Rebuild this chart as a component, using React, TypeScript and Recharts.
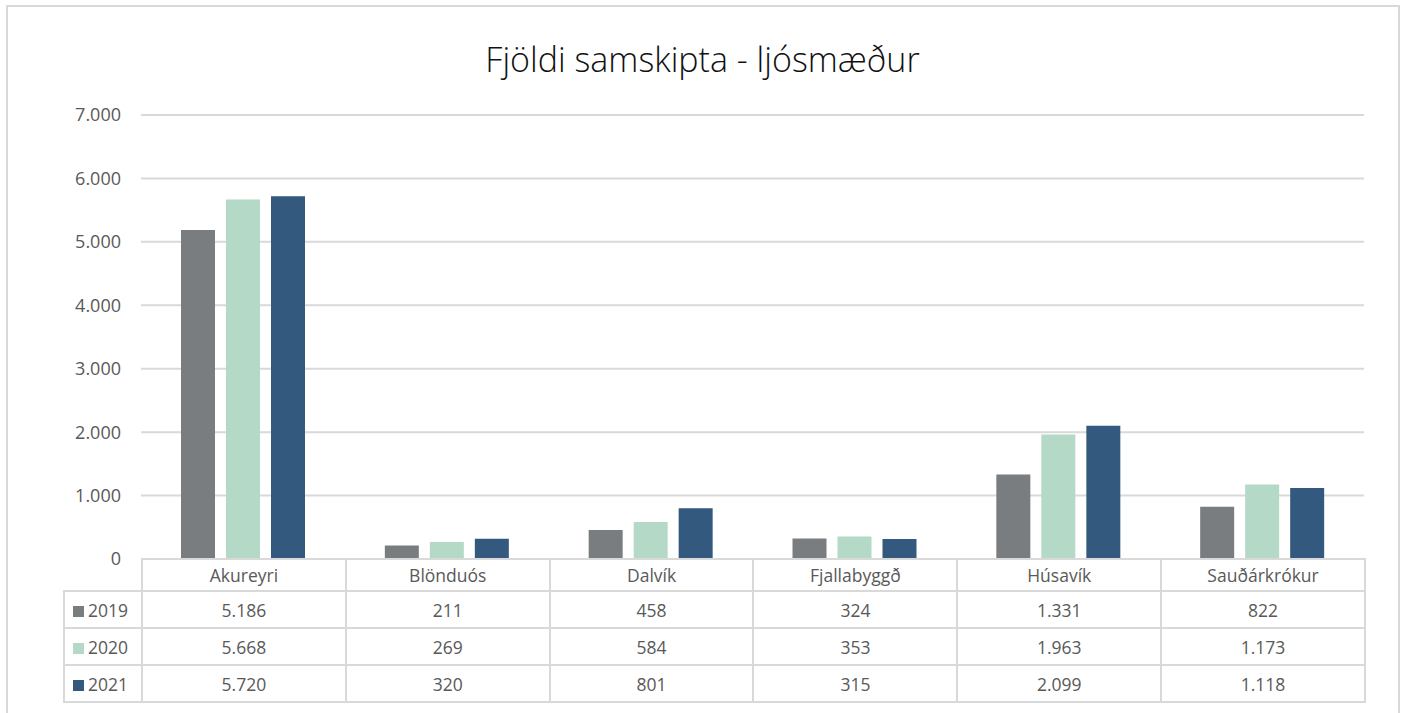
import { Bar, BarChart, CartesianGrid, XAxis, YAxis } from "recharts";

const categories = ["Akureyri", "Blönduós", "Dalvík", "Fjallabyggð", "Húsavík", "Sauðárkrókur"];
const years = ["2019", "2020", "2021"];
const values2019 = [5186, 211, 458, 324, 1331, 822];
const values2020 = [5668, 269, 584, 353, 1963, 1173];
const values2021 = [5720, 320, 801, 315, 2099, 1118];
const yTicks = [0, 1000, 2000, 3000, 4000, 5000, 6000, 7000];
const seriesColors = ["#797d80", "#b4d9c7", "#335a7e"];

const seriesValues = [values2019, values2020, values2021];
const data = categories.map((name, i) => ({
  name,
  y2019: values2019[i],
  y2020: values2020[i],
  y2021: values2021[i],
}));

const fmt = (n: number) => String(n).replace(/\B(?=(\d{3})+(?!\d))/g, ".");

const W = 1405;
const H = 713;
const PLOT_LEFT = 141;
const PLOT_RIGHT = 1364;
const PLOT_TOP = 115;
const PLOT_BOTTOM = 559;
const LEGEND_LEFT = 63;
const TEXT = "#595959";
const LINE = "#d9d9d9";
const FONT = "'Open Sans', sans-serif";

const cell: React.CSSProperties = {
  border: `2px solid ${LINE}`,
  padding: 0,
  textAlign: "center",
  color: TEXT,
  fontSize: 17.5,
  whiteSpace: "nowrap",
};

export default function App() {
  const catWidth = (PLOT_RIGHT - PLOT_LEFT) / categories.length;
  return (
    <div
      style={{
        position: "fixed",
        left: 0,
        top: 0,
        width: W,
        height: H,
        overflow: "hidden",
        background: "#fff",
        fontFamily: FONT,
      }}
    >
      <div
        style={{
          position: "absolute",
          left: 6,
          top: 5,
          width: 1390,
          height: 740,
          border: `2px solid ${LINE}`,
        }}
      />
      <div
        style={{
          position: "absolute",
          left: 0,
          width: W,
          top: 36,
          textAlign: "center",
          fontSize: 34,
          fontWeight: 300,
          color: "#111",
          lineHeight: "46px",
        }}
      >
        Fjöldi samskipta - ljósmæður
      </div>
      <div style={{ position: "absolute", left: 0, top: 0 }}>
        <BarChart
          width={W}
          height={H}
          data={data}
          margin={{ top: PLOT_TOP, right: W - PLOT_RIGHT, bottom: H - PLOT_BOTTOM, left: 0 }}
          barGap={11}
        >
          <CartesianGrid stroke={LINE} strokeWidth={2} vertical={false} />
          <XAxis dataKey="name" hide />
          <YAxis
            width={PLOT_LEFT}
            domain={[0, 7000]}
            ticks={yTicks}
            interval={0}
            axisLine={false}
            tickLine={false}
            tickSize={0}
            tickMargin={20}
            tickFormatter={fmt}
            tick={{ fill: TEXT, fontSize: 18, fontFamily: FONT }}
          />
          {years.map((y, i) => (
            <Bar key={y} dataKey={`y${y}`} fill={seriesColors[i]} barSize={34} isAnimationActive={false} />
          ))}
        </BarChart>
      </div>
      <table
        style={{
          position: "absolute",
          left: LEGEND_LEFT,
          top: PLOT_BOTTOM - 1,
          width: PLOT_RIGHT - LEGEND_LEFT,
          borderCollapse: "collapse",
          tableLayout: "fixed",
          fontFamily: FONT,
        }}
      >
        <colgroup>
          <col style={{ width: PLOT_LEFT - LEGEND_LEFT }} />
          {categories.map((c) => (
            <col key={c} style={{ width: catWidth }} />
          ))}
        </colgroup>
        <tbody>
          <tr style={{ height: 32 }}>
            <td style={{ ...cell, borderTop: "none", borderLeft: "none" }} />
            {categories.map((c) => (
              <td key={c} style={cell}>
                {c}
              </td>
            ))}
          </tr>
          {years.map((y, i) => (
            <tr key={y} style={{ height: 37 }}>
              <td style={{ ...cell, textAlign: "left", paddingLeft: 8 }}>
                <span
                  style={{
                    display: "inline-block",
                    width: 11,
                    height: 11,
                    background: seriesColors[i],
                    marginRight: 4,
                  }}
                />
                {y}
              </td>
              {seriesValues[i].map((v, j) => (
                <td key={j} style={cell}>
                  {fmt(v)}
                </td>
              ))}
            </tr>
          ))}
        </tbody>
      </table>
    </div>
  );
}
